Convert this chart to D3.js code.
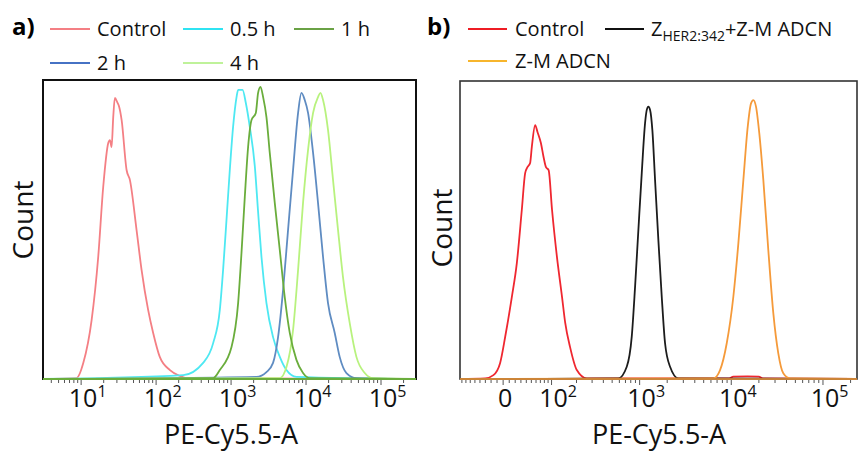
<!DOCTYPE html>
<html>
<head>
<meta charset="utf-8">
<script src="https://d3js.org/d3.v7.min.js"></script>
<style>
  body { margin: 0; background: #fff; }
  svg { font-family: "Open Sans", sans-serif; }
</style>
</head>
<body>
<div id="chart"></div>
<script>
// ---- panel a: [PE-Cy5.5-A, % of max count]
const aControl = [[8.7,0.3],[10.7,5.4],[13.8,19.7],[16.9,40.8],[19.7,64.2],[23.0,78.9],[24.2,79.9],[25.5,77.6],
  [26.8,87.6],[28.2,94.0],[30.3,92.6],[32.2,91.0],[34.7,86.6],[40.4,69.9],[44.7,66.6],[54.9,49.8],[64.0,36.5],
  [78.3,23.1],[91.4,15.4],[112,7.4],[153,3.0],[208,1.0],[255,0.3]];
const a05h = [[230,1.3],[424,5.4],[577,12.0],[708,23.1],[783,36.5],[869,53.2],[962,69.9],[1064,84.3],[1183,94.3],
  [1242,96.7],[1422,96.7],[1574,92.3],[1778,84.3],[2073,71.2],[2294,55.9],[2545,40.8],[2965,25.4],[3631,14.0],
  [4467,7.4],[5483,3.0],[7447,0.7]];
const a1h = [[577,0.3],[708,3.0],[1014,10.7],[1242,25.4],[1377,42.1],[1525,60.9],[1688,77.6],[1874,86.6],[2138,89.0],
  [2294,95.7],[2469,97.7],[2675,94.3],[2965,87.6],[3283,75.6],[3828,58.9],[4467,43.1],[5200,27.4],[6067,15.4],
  [7447,6.4],[9120,2.0],[11220,0.3]];
const a2h = [[2183,0.7],[2965,2.3],[3631,5.4],[4236,14.0],[4943,29.8],[5754,49.8],[6714,69.9],[7834,89.0],[8690,95.7],
  [9616,93.3],[10641,89.0],[12415,75.6],[14450,58.9],[16870,40.8],[19640,25.4],[24150,15.4],[28120,7.4],
  [34590,2.0],[46990,0.3]];
const a4h = [[4467,0.3],[5483,4.0],[6714,16.4],[7834,36.5],[9120,58.9],[10641,76.6],[12415,89.0],[14450,94.3],
  [15560,95.7],[16870,93.3],[19640,83.3],[22910,66.6],[26730,49.8],[31120,34.1],[38280,18.7],[46990,7.4],
  [60670,2.0],[78160,0.3]];

// ---- panel b
const bControl = [[-30.4,0.2],[-16.0,1.3],[-4.9,5.4],[3.3,14.1],[14.3,27.5],[22.8,38.9],[31.6,56.7],[37.8,69.1],
  [42.2,71.1],[47.5,72.5],[51.0,77.9],[58.1,85.2],[63.3,82.9],[71.3,79.2],[77.9,74.5],[84.2,71.1],[91.5,70.1],
  [101.5,56.7],[117.2,40.9],[135.3,27.5],[147.7,18.8],[168.5,10.7],[201.6,3.0],[261.5,0.2],
  [9500,0.2],[10500,0.8],[15000,0.9],[20000,0.8],[22000,0.2]];
const bZher = [[585,0.2],[723,4.1],[820,14.2],[892,31.0],[969,50.0],[1055,69.1],[1147,85.9],[1197,90.3],[1246,91.4],
  [1301,90.3],[1377,83.6],[1474,66.8],[1602,46.6],[1744,27.6],[1895,12.0],[2150,4.1],[2647,0.2]];
const bZM = [[6376,0.2],[7543,3.0],[8922,12.0],[10530,27.6],[11944,45.5],[13546,66.8],[15119,84.7],[16422,92.5],
  [17400,93.6],[18606,91.4],[20215,82.4],[22360,66.8],[25337,43.3],[28750,22.0],[32565,8.6],[36920,1.9],[43680,0.2]];

const ticksA = [1, 2, 3, 4, 5];          // exponents of 10
const ticksB = [0, 2, 3, 4, 5];          // 0, then exponents

const seriesA = [
  { name: "Control", data: aControl, color: "#f47f84", legend: "#f47f84" },
  { name: "0.5 h", data: a05h, color: "#4ee8f2", legend: "#2fe3f2" },
  { name: "2 h", data: a2h, color: "#5f8cc2", legend: "#4672c4" },
  { name: "4 h", data: a4h, color: "#b8f27e", legend: "#bff29a" },
  { name: "1 h", data: a1h, color: "#6aad3c", legend: "#6aa245" }
];
const seriesB = [
  { data: bControl, color: "#ef2730" },
  { data: bZher, color: "#1c1c1c" },
  { data: bZM, color: "#f59a3a" }
];

const W = 861, H = 452;
const svg = d3.select("#chart").append("svg").attr("width", W).attr("height", H);

// scales
const xA = d3.scaleLog().domain([3.1, 2.93e5]).range([43, 416]);
const asinhT = v => Math.asinh(v / 65);
const xBlin = d3.scaleLinear().domain([asinhT(-85), asinhT(235000)]).range([460, 857]);
const xB = v => xBlin(asinhT(v));
const yA = d3.scaleLinear().domain([0, 100]).range([379, 80]);
const yB = d3.scaleLinear().domain([0, 100]).range([379, 81]);

function drawCurves(series, x, y, dom) {
  const line = d3.line().x(d => x(d[0])).y(d => y(d[1])).curve(d3.curveMonotoneX);
  series.forEach(s => {
    const pts = [[dom[0], 0]].concat(s.data, [[dom[1], 0]]);
    svg.append("path").attr("d", line(pts)).attr("fill", "none")
      .attr("stroke", s.color).attr("stroke-width", 1.8).attr("stroke-linejoin", "round");
  });
}

// ticks under the frame
function bottomTicks(x, y0, major, minor) {
  const g = svg.append("g").attr("stroke", "#555");
  minor.forEach(v => g.append("line").attr("x1", x(v)).attr("x2", x(v)).attr("y1", y0).attr("y2", y0 + 3));
  major.forEach(v => g.append("line").attr("x1", x(v)).attr("x2", x(v)).attr("y1", y0).attr("y2", y0 + 5));
}

const minorA = [];
for (let e = 0; e <= 5; e++) for (let m = 2; m <= 9; m++) {
  const v = m * Math.pow(10, e);
  if (v > 3.1 && v < 2.93e5) minorA.push(v);
}
bottomTicks(xA, 380, ticksA.map(e => Math.pow(10, e)), minorA);

const minorB = [];
for (let e = 1; e <= 5; e++) for (let m = 1; m <= 9; m++) {
  const v = m * Math.pow(10, e);
  if (v < 235000 && !(m === 1 && e >= 2)) minorB.push(v);
}
[-10, -20, -30, -40, -50, -60, -70, -80].forEach(v => minorB.push(v));
bottomTicks(xB, 380, ticksB.map(e => e === 0 ? 0 : Math.pow(10, e)), minorB);

drawCurves(seriesA, xA, yA, xA.domain());
drawCurves(seriesB, xB, yB, [-85, 235000]);

// frames
svg.append("rect").attr("x", 43).attr("y", 80).attr("width", 373).attr("height", 299)
  .attr("fill", "none").attr("stroke", "#111").attr("stroke-width", 2);
svg.append("line").attr("x1", 43).attr("x2", 416).attr("y1", 379).attr("y2", 379)
  .attr("stroke", "#6aad3c").attr("stroke-width", 2);
svg.append("rect").attr("x", 460).attr("y", 81).attr("width", 397).attr("height", 298)
  .attr("fill", "none").attr("stroke", "#333").attr("stroke-width", 1.6);
svg.append("line").attr("x1", 460).attr("x2", 857).attr("y1", 379).attr("y2", 379)
  .attr("stroke", "#f59a3a").attr("stroke-width", 1.6);

// tick labels
function powLabel(xpos, exp) {
  const t = svg.append("text").attr("y", 407).attr("font-size", 25).attr("fill", "#111");
  const base = t.append("tspan").text(exp === null ? "0" : "10");
  if (exp !== null) t.append("tspan").attr("font-size", 16).attr("dy", -10).text(exp);
  const bw = base.node().getComputedTextLength();
  t.attr("x", xpos - bw / 2 + 2);
}
ticksA.forEach(e => powLabel(xA(Math.pow(10, e)), e));
ticksB.forEach(e => powLabel(xB(e === 0 ? 0 : Math.pow(10, e)), e === 0 ? null : e));

// axis titles
[231, 659].forEach(cx => {
  svg.append("text").attr("x", cx).attr("y", 443.5).attr("text-anchor", "middle")
    .attr("font-size", 27).attr("fill", "#111").text("PE-Cy5.5-A");
});
[[33, 220], [452, 228]].forEach(([cx, cy]) => {
  svg.append("text").attr("transform", `translate(${cx},${cy}) rotate(-90)`)
    .attr("text-anchor", "middle").attr("font-size", 28).attr("fill", "#111").text("Count");
});

// panel labels
svg.append("text").attr("x", 12).attr("y", 35).attr("font-size", 24).attr("font-weight", "bold").text("a)");
svg.append("text").attr("x", 427).attr("y", 35).attr("font-size", 24).attr("font-weight", "bold").text("b)");

// legends
const legA = [
  { s: seriesA[0], x: 50, y: 29 }, { s: seriesA[1], x: 183, y: 29 }, { s: seriesA[4], x: 294, y: 29 },
  { s: seriesA[2], x: 50, y: 63 }, { s: seriesA[3], x: 183, y: 63 }
];
legA.forEach(d => {
  svg.append("line").attr("x1", d.x).attr("x2", d.x + 40).attr("y1", d.y).attr("y2", d.y)
    .attr("stroke", d.s.legend).attr("stroke-width", 2.2);
  svg.append("text").attr("x", d.x + 47).attr("y", d.y + 7).attr("font-size", 20).attr("fill", "#111").text(d.s.name);
});

const legB = [
  { color: "#ee1c24", x: 468, y: 29 }, { color: "#111", x: 605, y: 29 }, { color: "#f7b52c", x: 468, y: 61 }
];
legB.forEach(d => {
  svg.append("line").attr("x1", d.x).attr("x2", d.x + 39).attr("y1", d.y).attr("y2", d.y)
    .attr("stroke", d.color).attr("stroke-width", 2.2);
});
svg.append("text").attr("x", 515).attr("y", 36).attr("font-size", 20).attr("fill", "#111").text("Control");
const zt = svg.append("text").attr("x", 651).attr("y", 36).attr("font-size", 20).attr("fill", "#111");
zt.append("tspan").text("Z");
zt.append("tspan").attr("font-size", 14).attr("dy", 5).text("HER2:342");
zt.append("tspan").attr("dy", -5).text("+Z-M ADCN");
svg.append("text").attr("x", 515).attr("y", 68).attr("font-size", 20).attr("fill", "#111").text("Z-M ADCN");
</script>
</body>
</html>
